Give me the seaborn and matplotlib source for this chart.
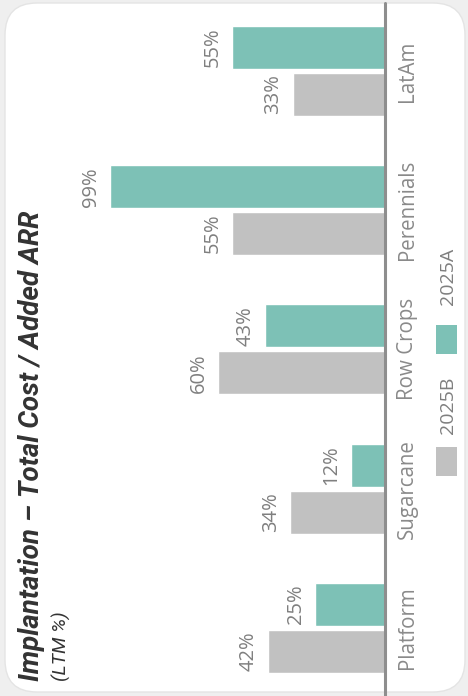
import matplotlib
matplotlib.use("Agg")
import matplotlib.pyplot as plt
from matplotlib.patches import FancyBboxPatch, Rectangle
from matplotlib.lines import Line2D
import seaborn as sns
import pandas as pd

# Data
regions = ["Platform", "Sugarcane", "Row Crops", "Perennials", "LatAm"]
series = ["2025B", "2025A"]
values_2025b = [42, 34, 60, 55, 33]
values_2025a = [25, 12, 43, 99, 55]
colors = {"2025B": "#C1C1C1", "2025A": "#7DC1B6"}

title_main = "Implantation \u2013 Total Cost / Added ARR"
title_sub = "(LTM %)"

df = pd.DataFrame({
    "region": regions * 2,
    "series": ["2025B"] * len(regions) + ["2025A"] * len(regions),
    "value": values_2025b + values_2025a,
})

sns.set_theme(style="white")
plt.rcParams["font.family"] = ["Open Sans", "DejaVu Sans"]

W, H = 468, 696
fig = plt.figure(figsize=(W / 100, H / 100), dpi=100)
fig.patch.set_facecolor("#EFEFEF")

# White rounded card behind everything
card = FancyBboxPatch((0.05, 0.04), 4.60, 6.89,
                      boxstyle="round,pad=0,rounding_size=0.32",
                      transform=fig.dpi_scale_trans, facecolor="white",
                      edgecolor="#E4E4E4", linewidth=1.0, zorder=-10)
fig.patches.append(card)

# Bars grow leftwards from a baseline; categories stacked bottom-to-top
base_px = 384.5
left_px = 60
ax = fig.add_axes([left_px / W, 0, (base_px - left_px) / W, 1])
ax.set_zorder(1)
ax.patch.set_alpha(0)

order = regions[::-1]
sns.barplot(data=df, y="region", x="value", hue="series", order=order,
            hue_order=["2025A", "2025B"], palette=colors, orient="h",
            width=0.675, gap=0.085, saturation=1, legend=False, ax=ax)

ax.set_xlim((base_px - left_px) / 2.77, 0)
ax.set_ylim(4.49, -0.51)
for s in ax.spines.values():
    s.set_visible(False)
ax.set_xlabel("")
ax.set_ylabel("")
ax.set_xticks([])

# Value labels at the tip of each bar
for cont in ax.containers:
    for bar in cont:
        w = bar.get_width()
        yc = bar.get_y() + bar.get_height() / 2
        ax.annotate(f"{w:.0f}%", (w, yc), xytext=(-7, 0),
                    textcoords="offset points", rotation=90,
                    ha="right", va="center", fontsize=14.5, color="#7F7F7F")

# Category labels on the baseline side
ax.yaxis.tick_right()
ax.tick_params(axis="y", length=0, pad=9, labelsize=14.8, labelcolor="#8A8A8A")
for lab in ax.get_yticklabels():
    lab.set_rotation(90)
    lab.set_va("center")
    lab.set_ha("left")

# Baseline
fig.add_artist(Line2D([base_px / W, base_px / W], [0, 1 - 3 / H],
                      color="#8E8E8E", linewidth=2.2, zorder=5))

# Title
fig.text(32 / W, 1 - 681 / H, title_main, rotation=90, ha="center", va="bottom",
         fontsize=20, fontweight="bold", fontstyle="italic", color="#333333",
         family=["Roboto", "DejaVu Sans"])
fig.text(61 / W, 1 - 681 / H, title_sub, rotation=90, ha="center", va="bottom",
         fontsize=14, fontstyle="italic", color="#333333",
         family=["Roboto", "DejaVu Sans"])

# Legend
for name, y0, ty in [("2025B", 447, 405), ("2025A", 325, 276)]:
    fig.add_artist(Rectangle((436 / W, 1 - (y0 + 29) / H), 21 / W, 29 / H,
                             facecolor=colors[name], edgecolor="none"))
    fig.text(448 / W, 1 - ty / H, name, rotation=90, ha="center", va="center",
             fontsize=14, color="#7F7F7F")

fig.savefig("out.png", dpi=100, facecolor=fig.get_facecolor())
